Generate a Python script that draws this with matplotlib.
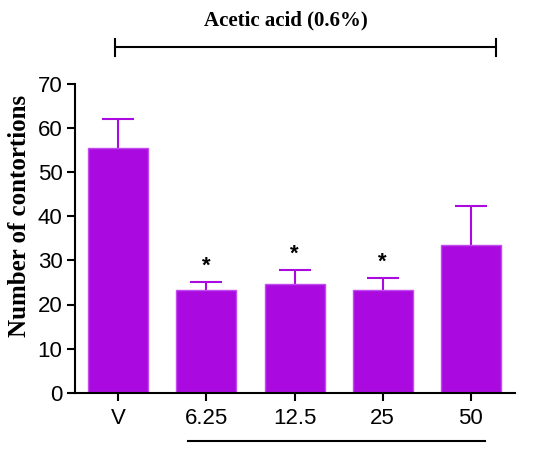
import matplotlib
matplotlib.use('Agg')
import matplotlib.pyplot as plt
import numpy as np

# Data
groups = ['V', '6.25', '12.5', '25', '50']
means = [55.4, 23.4, 24.6, 23.3, 33.6]
errs = [6.7, 1.7, 3.2, 2.7, 8.8]
signif = ['', '*', '*', '*', '']

barclr = '#AA0ADF'
edgeclr = '#C24BEF'

fig = plt.figure(figsize=(5.5, 4.51), dpi=100)
ax = fig.add_axes([75/550, 1-392.7/451, 440/550, 308.7/451])

x = np.arange(len(groups))
# symmetric errors drawn under the bars so only the upper half shows
ax.errorbar(x, means, yerr=errs, fmt='none', ecolor=barclr,
            elinewidth=1.5, capsize=11.5, capthick=1.5, zorder=1)
ax.bar(x, means, width=0.68, color=barclr, edgecolor=edgeclr, linewidth=1.0, zorder=2)

for i in range(len(groups)):
    if signif[i]:
        ax.text(x[i], means[i] + errs[i] + 1.2, signif[i], ha='center', va='bottom',
                fontsize=16, fontweight='bold', family='Liberation Sans')

ax.set_xlim(-0.49, 4.5)
ax.set_ylim(0, 70)
ax.set_yticks(np.arange(0, 71, 10))
ax.set_xticks(x)
ax.set_xticklabels(groups)
for lab in ax.get_xticklabels() + ax.get_yticklabels():
    lab.set_family('Liberation Sans')
    lab.set_fontsize(16)
ax.tick_params(axis='both', width=1.5, length=6, pad=3)
ax.tick_params(axis='x', pad=5)

for s in ['top', 'right']:
    ax.spines[s].set_visible(False)
for s in ['left', 'bottom']:
    ax.spines[s].set_linewidth(1.5)

# y label placed by hand
fig.text(20/550, 1-216/451, 'Number of contortions', rotation=90, ha='center', va='center',
         family='Liberation Serif', fontweight='bold', fontsize=18)

# top bracket
fig.add_artist(plt.Line2D([115/550, 496/550], [1-47/451, 1-47/451], color='black', lw=1.5))
for xp in [115, 496]:
    fig.add_artist(plt.Line2D([xp/550, xp/550], [1-39/451, 1-56/451], color='black', lw=1.5))
fig.text(286/550, 1-20/451, 'Acetic acid (0.6%)', ha='center', va='center',
         family='Liberation Serif', fontweight='bold', fontsize=15)

# bottom line
fig.add_artist(plt.Line2D([188/550, 485/550], [1-441/451, 1-441/451], color='black', lw=1.5))

fig.savefig('out.png', dpi=100)
